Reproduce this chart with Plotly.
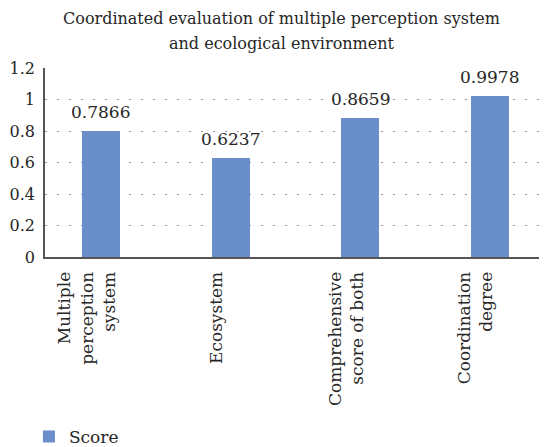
import plotly.graph_objects as go

categories = ["Multiple<br>perception<br>system", "Ecosystem",
              "Comprehensive<br>score of both", "Coordination<br>degree"]
bar_heights = [0.80, 0.63, 0.88, 1.02]
label_texts = ["0.7866", "0.6237", "0.8659", "0.9978"]
y_ticks = [0, 0.2, 0.4, 0.6, 0.8, 1.0, 1.2]
y_tick_labels = ["0", "0.2", "0.4", "0.6", "0.8", "1", "1.2"]
series_name = "Score"
title_lines = ["Coordinated evaluation of multiple perception system",
               "and ecological environment"]

FONT = "DejaVu Serif"
FS = 17
TEXT = "#262626"
BAR_COLOR = "#6A8EC9"

fig = go.Figure()
fig.add_trace(go.Bar(
    x=categories, y=bar_heights, name=series_name,
    marker=dict(color=BAR_COLOR, line=dict(width=0)),
    width=0.293, showlegend=True,
))
for c, h, t in zip(categories, bar_heights, label_texts):
    fig.add_annotation(x=c, y=h, text=t, showarrow=False, yanchor="bottom",
                       yshift=7, font=dict(family=FONT, size=FS, color=TEXT))

for i, line in enumerate(title_lines):
    fig.add_annotation(text=line, xref="paper", yref="paper", x=0.472, y=1,
                       xanchor="center", yanchor="middle", yshift=50 - 25 * i,
                       showarrow=False, font=dict(family=FONT, size=16, color=TEXT))

fig.update_layout(
    width=547, height=447,
    margin=dict(l=37, r=8, t=60, b=198, autoexpand=False),
    paper_bgcolor="white", plot_bgcolor="white",
    font=dict(family=FONT, size=FS, color=TEXT),
    legend=dict(orientation="h", x=-0.032, xanchor="left", y=-0.952, yanchor="middle",
                font=dict(family=FONT, size=FS, color=TEXT),
                itemwidth=30, tracegroupgap=0),
    bargap=0,
)
fig.update_xaxes(
    range=[-0.432, 3.441], tickangle=-90, showline=True, linecolor="#555",
    linewidth=2, showgrid=False, ticks="", ticklabelshift=-14, automargin=False,
    ticklabelstandoff=6, tickfont=dict(family=FONT, size=FS, color=TEXT),
)
fig.update_yaxes(
    range=[0, 1.2], tickvals=y_ticks, ticktext=y_tick_labels, automargin=False,
    showline=True, linecolor="#555", linewidth=1.5,
    showgrid=True, gridcolor="#999", gridwidth=1, griddash="2px,10px",
    zeroline=False, ticks="", ticklabelstandoff=5,
    tickfont=dict(family=FONT, size=16, color=TEXT),
)

fig.write_html("out.html")
